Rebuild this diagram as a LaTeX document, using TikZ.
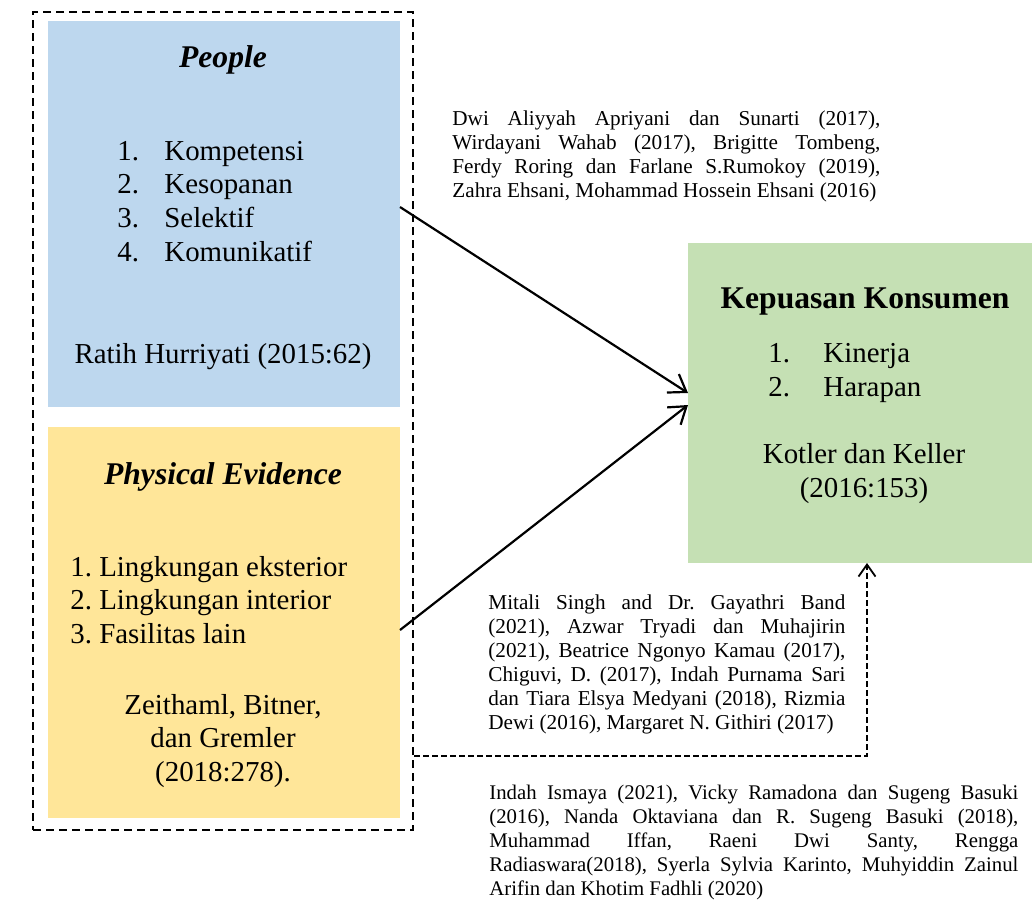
\documentclass[tikz,border=0pt]{standalone}
\usepackage{fontspec}
\setmainfont{Liberation Serif}
\usetikzlibrary{arrows.meta,positioning}
\definecolor{peopleblue}{HTML}{BDD7EE}
\definecolor{evidenceyellow}{HTML}{FFE699}
\definecolor{puasgreen}{HTML}{C5E0B4}
\newcommand{\isifont}{\fontsize{14.45}{16.75}\selectfont}
\newcommand{\judulfont}{\fontsize{15.8}{18}\selectfont\bfseries}
\frenchspacing
\hyphenpenalty=10000

\begin{document}
\begin{tikzpicture}[x=0.5pt,y=-0.5pt, line cap=butt, line join=miter,
  kotak/.style={rectangle, draw=none, inner sep=0pt, outer sep=0pt},
  teks/.style={inner sep=0pt, anchor=base west, font=\isifont},
  judul/.style={inner sep=0pt, anchor=base, font=\judulfont},
  rujukan/.style={inner sep=0pt, anchor=base west, align=justify},
  bingkai/.style={rectangle, draw, inner sep=0pt, line width=1.2pt, dash pattern=on 4pt off 2.5pt},
  panah/.style={line width=1.1pt, -{Straight Barb[length=8pt, width=11pt, line width=1.1pt]}},
  panahputus/.style={line width=0.75pt, dash pattern=on 3pt off 1.5pt, -{Straight Barb[length=6pt, width=8.5pt, line width=0.9pt]}}]

\useasboundingbox (0,0) rectangle (1032,902);

% kotak-kotak
\node[bingkai, minimum width=190pt, minimum height=409pt] (bauran) at (223,421) {};
\node[kotak, fill=peopleblue, minimum width=176pt, minimum height=193pt] (people) at (224,214) {};
\node[kotak, fill=evidenceyellow, minimum width=176pt, minimum height=195.5pt] (evidence) at (224,622.5) {};
\node[kotak, fill=puasgreen, minimum width=172pt, minimum height=160pt] (kepuasan) at (860,403) {};

% people
\node[judul] (judul-people) at (223,67) {\itshape People};
\foreach \isi [count=\i] in {Kompetensi,Kesopanan,Selektif,Komunikatif}
{
\node[teks] (pn\i) at (117,{160+33.7*(\i-1)}) {\i.};
\node[teks] (pi\i) at (164,{160+33.7*(\i-1)}) {\isi};
}
\node[teks, anchor=base] (sumber-people) at (223,363) {Ratih Hurriyati (2015:62)};

% physical evidence
\node[judul] (judul-evidence) at (223,484) {\itshape Physical Evidence};
\foreach \isi [count=\i] in {Lingkungan eksterior,Lingkungan interior,Fasilitas lain}
{
\node[teks] (ei\i) at (70,{576+33.5*(\i-1)}) {\i. \isi};
}
\foreach \baris [count=\i] in {{Zeithaml, Bitner,},{dan Gremler},{(2018:278).}}
{
\node[teks, anchor=base] (es\i) at (223,{714+33.5*(\i-1)}) {\baris};
}

% kepuasan konsumen
\node[judul] (judul-kepuasan) at (865,308) {Kepuasan Konsumen};
\foreach \isi [count=\i] in {Kinerja,Harapan}
{
\node[teks] (kn\i) at (768,{362+34*(\i-1)}) {\i.};
\node[teks] (ki\i) at (823,{362+34*(\i-1)}) {\isi};
}
\node[teks, anchor=base] (ks1) at (864,463) {Kotler dan Keller};
\node[teks, anchor=base] (ks2) at (864,497) {(2016:153)};

% penelitian terdahulu
\node[rujukan, text width=214pt] (rujuk-atas) at (452,125)
{\fontsize{10.6}{12.5}\selectfont Dwi Aliyyah Apriyani dan Sunarti (2017),\linebreak
Wirdayani Wahab (2017), Brigitte Tombeng,\linebreak
Ferdy Roring dan Farlane S.Rumokoy (2019),\linebreak
Zahra Ehsani, Mohammad Hossein Ehsani (2016)};
\node[rujukan, text width=178.5pt] (rujuk-tengah) at (488,609)
{\fontsize{10.6}{12.1}\selectfont Mitali Singh and Dr. Gayathri Band\linebreak
(2021), Azwar Tryadi dan Muhajirin\linebreak
(2021), Beatrice Ngonyo Kamau (2017),\linebreak
Chiguvi, D. (2017), Indah Purnama Sari\linebreak
dan Tiara Elsya Medyani (2018), Rizmia\linebreak
Dewi (2016), Margaret N. Githiri (2017)};
\node[rujukan, text width=264.5pt] (rujuk-bawah) at (489,799)
{\fontsize{10.4}{11.6}\selectfont Indah Ismaya (2021), Vicky Ramadona dan Sugeng Basuki\linebreak
(2016), Nanda Oktaviana dan R. Sugeng Basuki (2018),\linebreak
Muhammad Iffan, Raeni Dwi Santy, Rengga\linebreak
Radiaswara(2018), Syerla Sylvia Karinto, Muhyiddin Zainul\linebreak
Arifin dan Khotim Fadhli (2020)};

% panah
\coordinate (keluar-people) at (400,207);
\coordinate (keluar-evidence) at (400,630);
\coordinate (masuk-atas) at (688,393);
\coordinate (masuk-bawah) at (688,405);
\coordinate (belok) at (867,756);
\draw[panah] (keluar-people) -- (masuk-atas);
\draw[panah] (keluar-evidence) -- (masuk-bawah);
\draw[panahputus] (bauran.east |- belok) -- (belok) -- (belok |- kepuasan.south);
\end{tikzpicture}
\end{document}
